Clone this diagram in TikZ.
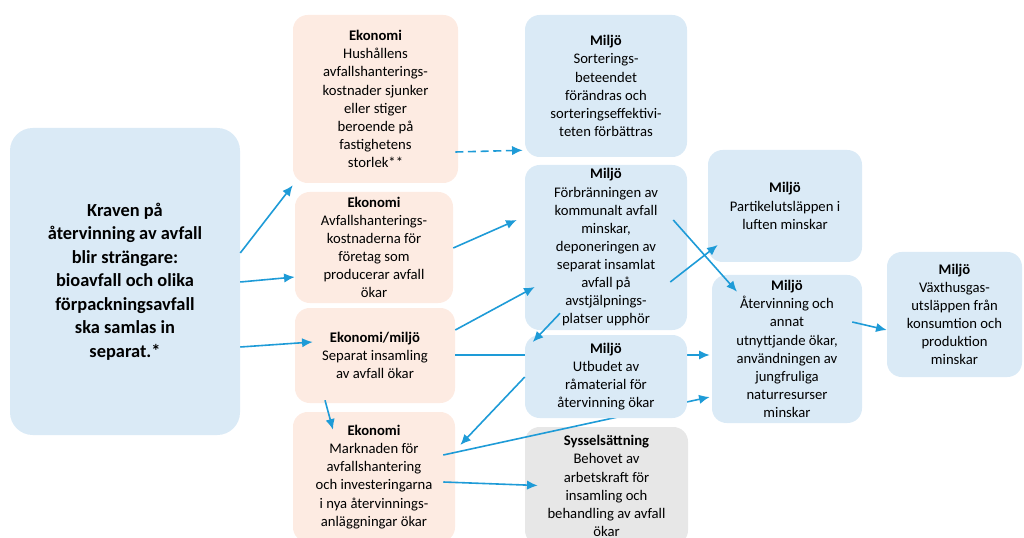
\documentclass[tikz,border=0pt]{standalone}
\usepackage{fontspec}
\setmainfont{Carlito}
\usetikzlibrary{arrows.meta,calc}
\definecolor{bluefill}{HTML}{DAEAF6}
\definecolor{orafill}{HTML}{FDEBE2}
\definecolor{gryfill}{HTML}{E7E7E7}
\definecolor{arrowcol}{HTML}{1E9BD7}
\newcommand\bodyfont{\fontsize{11}{13.6}\selectfont}
\newcommand\mainfont{\fontsize{13.8}{17.6}\selectfont\bfseries}
\newcommand\bx[7]{\node[#6, minimum width={(#4-#2)*0.75pt}, minimum height={(#5-#3)*0.75pt}] (#1) at ({(#2+#4)/2},{(#3+#5)/2}) {#7};}
\tikzset{
  box/.style={rounded corners=11pt, inner sep=0pt, align=center, font=\bodyfont},
  blu/.style={box, fill=bluefill},
  ora/.style={box, fill=orafill},
  gry/.style={box, fill=gryfill},
  mainbox/.style={box, fill=bluefill, rounded corners=17pt, font=\mainfont},
  arr/.style={draw=arrowcol, line width=1.2pt, -{Latex[length=8pt,width=7pt]}},
  dasharr/.style={arr, dash pattern=on 6pt off 3.5pt},
}
\begin{document}
\begin{tikzpicture}[x=0.75pt,y=-0.75pt]
\useasboundingbox (0,0) rectangle (1024,538);
\bx{main}{10}{128}{240}{435}{mainbox}{Kraven på\\återvinning av avfall\\blir strängare:\\bioavfall och olika\\förpackningsavfall\\ska samlas in\\separat.*}
\bx{e1}{293}{15}{458}{183}{ora}{\textbf{Ekonomi}\\Hushållens\\avfallshanterings-\\kostnader sjunker\\eller stiger\\beroende på\\fastighetens\\storlek**}
\bx{e2}{295}{192}{453}{303}{ora}{\textbf{Ekonomi}\\Avfallshanterings-\\kostnaderna för\\företag som\\producerar avfall\\ökar}
\bx{e3}{295}{308}{455}{403}{ora}{\textbf{Ekonomi/miljö}\\Separat insamling\\av avfall ökar}
\bx{e4}{293}{412}{455}{542}{ora}{\textbf{Ekonomi}\\Marknaden för\\avfallshantering\\och investeringarna\\i nya återvinnings-\\anläggningar ökar}
\bx{m1}{525}{15}{687}{157}{blu}{\textbf{Miljö}\\Sorterings-\\beteendet\\förändras och\\sorteringseffektivi-\\teten förbättras}
\bx{m2}{525}{165}{687}{330}{blu}{\textbf{Miljö}\\Förbränningen av\\kommunalt avfall\\minskar,\\deponeringen av\\separat insamlat\\avfall på\\avstjälpnings-\\platser upphör}
\bx{sy}{525}{427}{688}{545}{gry}{\textbf{Sysselsättning}\\Behovet av\\arbetskraft för\\insamling och\\behandling av avfall\\ökar}
\bx{pa}{708}{150}{862}{262}{blu}{\textbf{Miljö}\\Partikelutsläppen i\\luften minskar}
\bx{at}{712}{275}{862}{423}{blu}{\textbf{Miljö}\\Återvinning och\\annat\\utnyttjande ökar,\\användningen av\\jungfruliga\\naturresurser\\minskar}
\bx{vx}{887}{252}{1022}{377}{blu}{\textbf{Miljö}\\Växthusgas-\\utsläppen från\\konsumtion och\\produktion\\minskar}
% arrows passing behind m3
\draw[arr] ($(e3.east)+(0,-0.5)$) -- ($(at.west)+(-2,6)$);
\draw[arr] ($(e4.east)+(-12,-22)$) -- ($(at.west)+(-2,48)$);
\bx{m3}{525}{335}{687}{418}{blu}{\textbf{Miljö}\\Utbudet av\\råmaterial för\\återvinning ökar}
% other arrows
\draw[arr] ($(main.east)+(0,-28.5)$) -- ($(e1.south west)+(0,2)$);
\draw[arr] ($(main.east)+(0,0.5)$) -- ($(e2.west)+(0,29.5)$);
\draw[arr] ($(main.east)+(0,65.5)$) -- ($(e3.west)+(18,-13.5)$);
\draw[dasharr] ($(e1.east)+(-3,53)$) -- ($(m1.south west)+(-2,-7)$);
\draw[arr] ($(e2.east)+(0,0.5)$) -- ($(m2.west)+(-8,-27.5)$);
\draw[arr] ($(e3.east)+(0,-25.5)$) -- ($(m2.west)+(10,39.5)$);
\draw[arr] ($(m3.west)+(0,0.5)$) -- ($(e4.east)+(5,-32)$);
\draw[arr] ($(m2.south)+(-46,-17)$) -- ($(m3.west)+(8,-34.5)$);
\draw[arr] ($(e3.south)+(-50,-3)$) -- ($(e4.north)+(-41,18)$);
\draw[arr] ($(e4.east)+(-12,5)$) -- ($(sy.west)+(13,-0.5)$);
\draw[arr] ($(m2.east)+(-14,-27.5)$) -- ($(at.north)+(-50,17)$);
\draw[arr] ($(m2.east)+(-17,34.5)$) -- ($(pa.west)+(10,39)$);
\draw[arr] ($(at.east)+(-10,-27)$) -- ($(vx.west)+(0,15.5)$);
\end{tikzpicture}
\end{document}
